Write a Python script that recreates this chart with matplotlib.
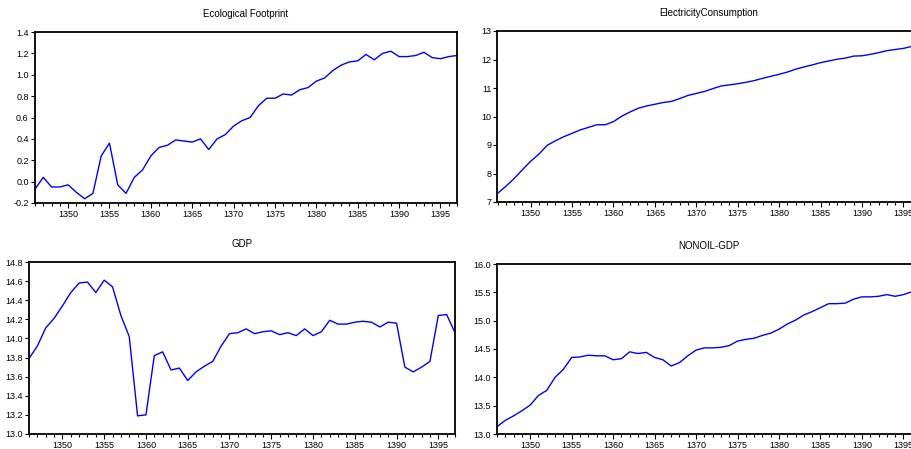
import matplotlib
matplotlib.use("Agg")
import matplotlib.pyplot as plt
from matplotlib.ticker import MultipleLocator, FixedLocator
import numpy as np

plt.rcParams['font.family'] = ['Liberation Sans', 'DejaVu Sans']

years = list(range(1346, 1398))

eco_footprint = [-0.07, 0.04, -0.05, -0.05, -0.03, -0.10, -0.16, -0.11, 0.24, 0.36,
                 -0.03, -0.11, 0.04, 0.11, 0.24, 0.32, 0.34, 0.39, 0.38, 0.37,
                 0.40, 0.30, 0.40, 0.44, 0.52, 0.57, 0.60, 0.71, 0.78, 0.78,
                 0.82, 0.81, 0.86, 0.88, 0.94, 0.97, 1.04, 1.09, 1.12, 1.13,
                 1.19, 1.14, 1.20, 1.22, 1.17, 1.17, 1.18, 1.21, 1.16, 1.15,
                 1.17, 1.18]

electricity = [7.30, 7.55, 7.82, 8.13, 8.43, 8.68, 8.99, 9.15, 9.29, 9.41,
               9.53, 9.62, 9.71, 9.71, 9.82, 10.01, 10.16, 10.29, 10.37, 10.43,
               10.49, 10.53, 10.63, 10.74, 10.81, 10.88, 10.98, 11.07, 11.11, 11.15,
               11.20, 11.26, 11.34, 11.41, 11.48, 11.56, 11.66, 11.74, 11.81, 11.89,
               11.95, 12.01, 12.05, 12.12, 12.13, 12.18, 12.24, 12.31, 12.35, 12.39,
               12.46, 12.50]

gdp = [13.79, 13.92, 14.11, 14.21, 14.34, 14.48, 14.58, 14.59, 14.48, 14.61,
       14.54, 14.24, 14.02, 13.19, 13.20, 13.82, 13.86, 13.67, 13.69, 13.56,
       13.65, 13.71, 13.76, 13.92, 14.05, 14.06, 14.10, 14.05, 14.07, 14.08,
       14.04, 14.06, 14.03, 14.10, 14.03, 14.07, 14.19, 14.15, 14.15, 14.17,
       14.18, 14.17, 14.12, 14.17, 14.16, 13.70, 13.65, 13.70, 13.76, 14.24,
       14.25, 14.06]

nonoil_gdp = [13.13, 13.24, 13.32, 13.41, 13.51, 13.68, 13.77, 14.00, 14.14, 14.35,
              14.36, 14.39, 14.38, 14.38, 14.31, 14.33, 14.45, 14.42, 14.44, 14.35,
              14.31, 14.20, 14.26, 14.38, 14.48, 14.52, 14.52, 14.53, 14.56, 14.64,
              14.67, 14.69, 14.74, 14.78, 14.85, 14.94, 15.01, 15.10, 15.16, 15.23,
              15.30, 15.30, 15.31, 15.38, 15.42, 15.42, 15.43, 15.46, 15.43, 15.46,
              15.51, 15.55]

titles = ["Ecological Footprint", "ElectricityConsumption", "GDP", "NONOIL-GDP"]
series = [eco_footprint, electricity, gdp, nonoil_gdp]
ylims = [(-0.2, 1.4), (7, 13), (13.0, 14.8), (13.0, 16.0)]
ysteps = [0.2, 1, 0.2, 0.5]
yfmts = ["{:.1f}", "{:.0f}", "{:.1f}", "{:.1f}"]

W, H = 912, 449
# pixel boxes: left, right, top, bottom
boxes = [(35, 457, 32, 203), (497.5, 920, 31, 202), (29, 455, 262, 434), (497, 920, 264, 434)]

fig = plt.figure(figsize=(W / 100, H / 100), dpi=100)
fig.patch.set_facecolor("white")

for i in range(4):
    l, r, t, b = boxes[i]
    ax = fig.add_axes([l / W, (H - b) / H, (r - l) / W, (b - t) / H])
    ax.plot(years, series[i], color="#0000ff", linewidth=1.0)
    ax.set_xlim(1346, 1397)
    ax.set_ylim(*ylims[i])
    lo, hi = ylims[i]
    yt = np.arange(lo, hi + ysteps[i] / 2, ysteps[i])
    ax.yaxis.set_major_locator(FixedLocator(yt))
    ax.set_yticklabels([yfmts[i].format(v + 0.0) for v in yt])
    ax.xaxis.set_major_locator(FixedLocator(list(range(1350, 1397, 5))))
    ax.xaxis.set_minor_locator(MultipleLocator(1))
    ax.tick_params(axis="both", which="major", direction="out", length=3, width=0.8,
                   labelsize=6.5, pad=1.5, colors="black")
    ax.tick_params(axis="x", which="minor", direction="out", length=2.5, width=0.8)
    ax.tick_params(axis="x", which="major", length=3.5)
    for s in ax.spines.values():
        s.set_linewidth(1.3)
        s.set_color("black")
    ax.set_title(titles[i], fontsize=7, pad=11)

fig.savefig("out.png", dpi=100, facecolor="white")
